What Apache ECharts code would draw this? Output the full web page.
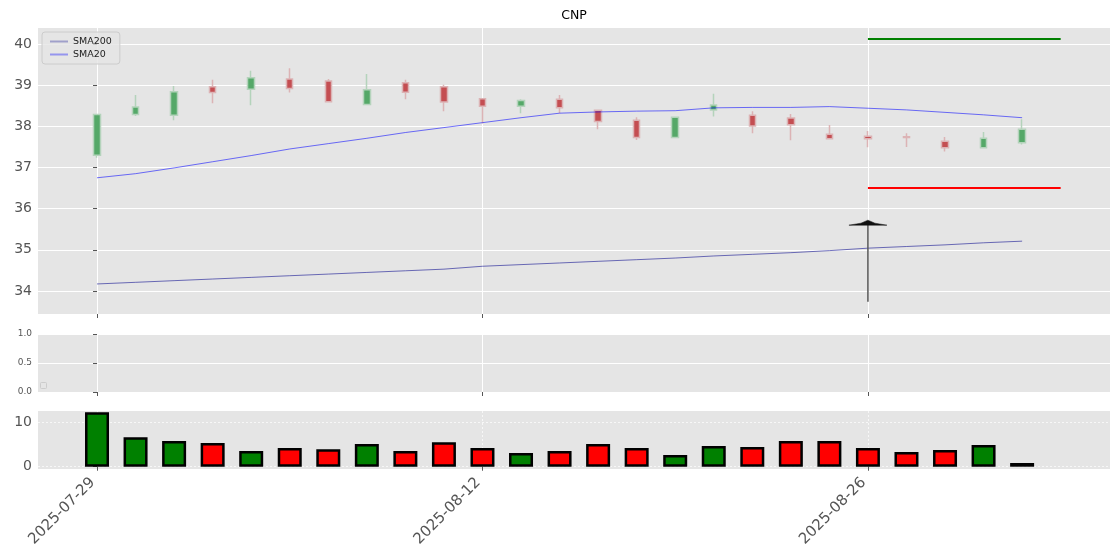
<!DOCTYPE html>
<html>
<head>
<meta charset="utf-8">
<script src="https://cdn.jsdelivr.net/npm/echarts@6/dist/echarts.min.js"></script>
<style>
html,body{margin:0;padding:0;background:#fff;}
#chart{width:1120px;height:560px;}
</style>
</head>
<body>
<div id="chart"></div>
<script>
// ---- data ----
const dates = ['2025-07-29','2025-07-30','2025-07-31','2025-08-01','2025-08-04','2025-08-05','2025-08-06','2025-08-07','2025-08-08','2025-08-11',
               '2025-08-12','2025-08-13','2025-08-14','2025-08-15','2025-08-18','2025-08-19','2025-08-20','2025-08-21','2025-08-22','2025-08-25',
               '2025-08-26','2025-08-27','2025-08-28','2025-08-29','2025-09-02'];
const opens  = [37.30,38.29,38.27,38.96,38.90,39.15,39.10,38.53,39.06,38.96,38.67,38.49,38.66,38.39,38.15,37.73,38.40,38.27,38.20,37.81,37.76,37.75,37.64,37.48,37.60];
const closes = [38.29,38.47,38.84,38.82,39.18,38.92,38.60,38.89,38.83,38.59,38.49,38.63,38.45,38.12,37.73,38.22,38.52,38.01,38.04,37.70,37.70,37.73,37.48,37.71,37.93];
const lows   = [37.24,38.25,38.15,38.56,38.51,38.82,38.59,38.51,38.66,38.37,38.07,38.32,38.32,37.93,37.67,37.72,38.24,37.83,37.66,37.68,37.49,37.50,37.39,37.46,37.56];
const highs  = [38.30,38.76,38.98,39.13,39.35,39.41,39.15,39.27,39.13,39.01,38.68,38.66,38.76,38.41,38.22,38.23,38.79,38.37,38.30,38.03,37.89,37.83,37.74,37.86,38.17];
const sma20  = [36.75,36.85,36.99,37.14,37.29,37.45,37.58,37.71,37.85,37.97,38.09,38.21,38.32,38.35,38.37,38.38,38.45,38.46,38.46,38.48,38.44,38.40,38.34,38.28,38.21];
const sma200 = [34.17,34.21,34.25,34.29,34.33,34.37,34.41,34.45,34.49,34.53,34.60,34.64,34.68,34.72,34.76,34.80,34.85,34.89,34.93,34.98,35.04,35.08,35.12,35.17,35.21];
const volumes = [12.36,6.68,5.84,5.39,3.57,4.25,3.98,5.16,3.57,5.55,4.25,3.11,3.57,5.16,4.25,2.66,4.70,4.48,5.84,5.84,4.25,3.34,3.80,4.93,0.84];
const dateTickIdx = [0,10,20];
const priceTicks = [34,35,36,37,38,39,40];
const volumeTicks = [0,10];
const levelStart = 20, levelEnd = 25;
const resistance = 40.12, support = 36.50;
const arrowIdx = 20, arrowFrom = 33.74, arrowTo = 35.72;

// ---- derived ----
const candleData = dates.map((d,i)=>[i, opens[i], closes[i], lows[i], highs[i]]);
const upColor = '#55a868', downColor = '#c44e52';
const volData = volumes.map((v,i)=>({value:[i,v], itemStyle:{color: closes[i] >= opens[i] ? '#008000' : '#ff0000'}}));
const xMin = -1.531, xMax = 26.28;
const FONT = 'DejaVu Sans';
const labelColor = '#555';

function xAxisCfg(gridIndex, showLabels, splitStyle){
  return {
    type:'value', gridIndex, min:xMin, max:xMax,
    axisLine:{show:false},
    axisTick:{show:true, customValues:dateTickIdx, length:4, lineStyle:{color:'#555', width:1}},
    axisLabel:{show:showLabels, customValues:dateTickIdx, rotate:45, margin:7, padding:[0,6,0,0],
      formatter:v=>dates[Math.round(v)] || '', color:labelColor, fontSize:15, fontFamily:FONT},
    splitLine:{show:true, lineStyle:splitStyle}
  };
}

const chart = echarts.init(document.getElementById('chart'), null, {renderer:'canvas'});
const option = {
  animation:false,
  backgroundColor:'#ffffff',
  textStyle:{fontFamily:FONT},
  graphic:[
    {type:'text', x:574, y:16, style:{text:'CNP', textAlign:'center', textVerticalAlign:'middle', fontSize:12.5, fontFamily:FONT, fill:'#000'}},
    {type:'rect', shape:{x:40.5, y:382.5, width:6, height:6, r:1}, style:{fill:'rgba(229,229,229,0.8)', stroke:'#cccccc', lineWidth:1}, z:10}
  ],
  legend:{
    data:['SMA200','SMA20'], orient:'vertical', left:42, top:32,
    backgroundColor:'rgba(229,229,229,0.8)', borderColor:'#cccccc', borderWidth:1, borderRadius:3,
    padding:[4,8,4,8], itemGap:2, itemWidth:18, itemHeight:2, icon:'rect',
    textStyle:{fontSize:9.5, color:'#222', fontFamily:FONT, lineHeight:11}
  },
  grid:[
    {left:38, right:10, top:28, height:286, show:true, backgroundColor:'#e5e5e5', borderWidth:0},
    {left:38, right:10, top:334, height:58, show:true, backgroundColor:'#e5e5e5', borderWidth:0},
    {left:38, right:10, top:411, height:58, show:true, backgroundColor:'#e5e5e5', borderWidth:0}
  ],
  xAxis:[
    xAxisCfg(0, false, {color:'#ffffff', width:1}),
    xAxisCfg(1, false, {color:'#ffffff', width:1}),
    xAxisCfg(2, true, {color:'rgba(255,255,255,0.7)', width:1, type:[2,2]})
  ],
  yAxis:[
    {type:'value', gridIndex:0, min:33.44, max:40.39,
      axisLine:{show:false},
      axisTick:{show:true, customValues:priceTicks, length:4, lineStyle:{color:'#555'}},
      axisLabel:{customValues:priceTicks, color:labelColor, fontSize:14, fontFamily:FONT, margin:6},
      splitLine:{show:true, lineStyle:{color:'#ffffff', width:1}}},
    {type:'value', gridIndex:1, min:0, max:1, interval:0.5,
      axisLine:{show:false},
      axisTick:{show:true, length:4, lineStyle:{color:'#555'}},
      axisLabel:{color:labelColor, fontSize:9, fontFamily:FONT, margin:6, formatter:v=>v.toFixed(1)},
      splitLine:{show:true, lineStyle:{color:'#ffffff', width:1}}},
    {type:'value', gridIndex:2, min:-0.52, max:12.66,
      axisLine:{show:false},
      axisTick:{show:true, customValues:volumeTicks, length:4, lineStyle:{color:'#555'}},
      axisLabel:{customValues:volumeTicks, color:labelColor, fontSize:14, fontFamily:FONT, margin:6},
      splitLine:{show:true, lineStyle:{color:'rgba(255,255,255,0.7)', width:1, type:[2,2]}}}
  ],
  series:[
    {type:'candlestick', name:'price', xAxisIndex:0, yAxisIndex:0, data:candleData,
      encode:{x:0, y:[1,2,3,4]}, barWidth:7, z:2,
      itemStyle:{color:upColor, color0:downColor, borderColor:'#b4d3bb', borderColor0:'#dcb3b5', borderWidth:1.5}},
    {type:'line', name:'SMA200', xAxisIndex:0, yAxisIndex:0, data:sma200.map((v,i)=>[i,v]),
      showSymbol:false, symbol:'none', z:3, lineStyle:{width:1, color:'rgba(0,0,139,0.55)'}, itemStyle:{color:'rgba(0,0,139,0.3)'}},
    {type:'line', name:'SMA20', xAxisIndex:0, yAxisIndex:0, data:sma20.map((v,i)=>[i,v]),
      showSymbol:false, symbol:'none', z:3, lineStyle:{width:1, color:'rgba(0,0,255,0.55)'}, itemStyle:{color:'rgba(0,0,255,0.35)'}},
    {type:'line', name:'resistance', xAxisIndex:0, yAxisIndex:0, data:[[levelStart,resistance],[levelEnd,resistance]],
      showSymbol:false, symbol:'none', z:3, lineStyle:{width:2, color:'#008000'}},
    {type:'line', name:'support', xAxisIndex:0, yAxisIndex:0, data:[[levelStart,support],[levelEnd,support]],
      showSymbol:false, symbol:'none', z:3, lineStyle:{width:2, color:'#ff0000'}},
    {type:'custom', name:'arrow', xAxisIndex:0, yAxisIndex:0, data:[[arrowIdx, arrowFrom, arrowTo]], z:4,
      renderItem:function(params, api){
        const p0 = api.coord([api.value(0), api.value(1)]);
        const p1 = api.coord([api.value(0), api.value(2)]);
        const x = p1[0], y = p1[1];
        return {type:'group', children:[
          {type:'line', shape:{x1:p0[0], y1:p0[1], x2:x, y2:y+4}, style:{stroke:'#555', lineWidth:1.5}},
          {type:'polygon', shape:{points:[[x,y],[x-7,y+3],[x-19,y+5],[x+19,y+5],[x+7,y+3]]}, style:{fill:'#111', stroke:'#111', lineWidth:0.5}}
        ]};
      }},
    {type:'bar', name:'volume', xAxisIndex:2, yAxisIndex:2, data:volData, barWidth:24,
      itemStyle:{borderColor:'#000', borderWidth:2.5}}
  ]
};
chart.setOption(option);
</script>
</body>
</html>
